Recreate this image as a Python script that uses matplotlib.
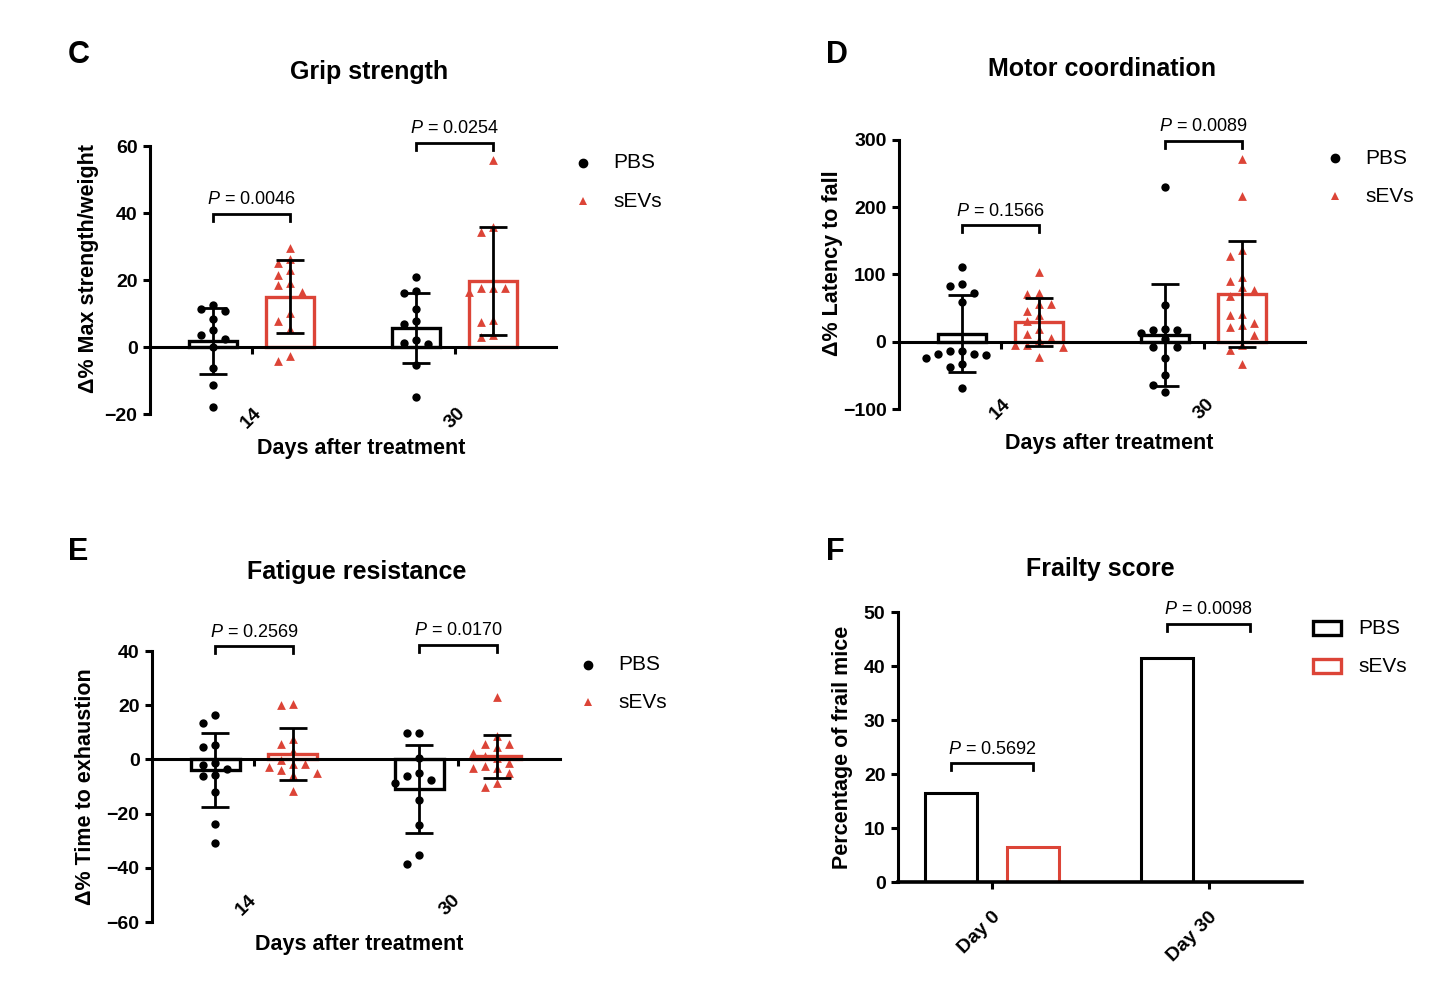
import numpy as np
import matplotlib
matplotlib.use('Agg')
import matplotlib.pyplot as plt
from matplotlib.patches import Rectangle
from matplotlib.transforms import blended_transform_factory

plt.rcParams['font.family'] = ['Liberation Sans', 'DejaVu Sans']
plt.rcParams['mathtext.fontset'] = 'custom'
plt.rcParams['mathtext.it'] = 'Liberation Sans:italic'
plt.rcParams['mathtext.rm'] = 'Liberation Sans'

RED = '#DC4437'

# ---- data ----
days = ['14', '30']

grip_pbs = [[12.5, 10.8, 11.3, 8.5, 5.0, 3.5, 2.3, 0.0, -6.2, -11.3, -17.8],
            [21.0, 16.8, 16.0, 11.2, 6.8, 7.7, 1.2, 2.0, 0.8, -5.3, -15.0]]
grip_sevs = [[29.7, 25.0, 26.2, 21.5, 23.0, 18.5, 19.0, 16.5, 10.2, 5.3, 7.8, -4.2, -2.8],
             [55.8, 35.8, 34.3, 17.5, 17.5, 16.3, 17.5, 7.5, 8.2, 3.0, 3.5]]
grip_p = ['0.0046', '0.0254']

motor_pbs = [[110.7, 86.5, 82.5, 72.6, 58.8, -13.8, -13.8, -20.3, -18.8, -18.8, -23.7, -37.6, -32.6, -69.2],
             [230.8, 55.3, 17.3, 17.3, 13.3, 19.3, 4.4, -7.4, -7.4, -23.7, -49.4, -74.6, -63.7]]
motor_sevs = [[103.8, 71.2, 72.6, 56.8, 56.8, 46.0, 40.5, 31.1, 11.9, 18.3, 5.9, 2.0, -5.4, -7.4, -5.4, -22.7],
              [272.3, 217.0, 136.0, 127.0, 91.0, 77.6, 95.9, 81.0, 67.7, 40.5, 42.0, 24.2, 28.2, 21.7,
               9.4, -5.4, -12.8, -32.6]]
motor_p = ['0.1566', '0.0089']

fatigue_pbs = [[16.2, 13.3, 5.3, 4.4, -1.2, -3.7, -2.1, -5.8, -6.1, -11.9, -23.9, -30.7],
               [9.9, 9.9, 0.7, -6.0, -5.2, -7.6, -8.8, -15.0, -24.2, -35.2, -38.7]]
fatigue_sevs = [[20.2, 20.6, 7.7, 5.5, 3.1, -1.7, -0.2, -1.7, -2.7, -3.9, -4.9, -5.8, -11.5],
                [23.1, 8.6, 4.4, 5.5, 5.5, 0.4, 2.2, 1.2, -3.3, -1.2, -3.3, -2.5, -5.2, -10.1, -8.6]]
fatigue_p = ['0.2569', '0.0170']

frail_days = ['Day 0', 'Day 30']
frail_pbs = [16.4, 41.4]
frail_sevs = [6.4, 0.0]
frail_p = ['0.5692', '0.0098']

# ---- layout ----
W, H = 1446, 996
fig = plt.figure(figsize=(W / 100, H / 100), dpi=100)


def rect(l, t, r, b):
    return [l / W, 1 - b / H, (r - l) / W, (b - t) / H]


def fx(x, y):
    return x / W, 1 - y / H


OFF = 0.19
BW = 0.24
LW = 2.2


def style(ax):
    for s in ['top', 'right']:
        ax.spines[s].set_visible(False)
    for s in ['left', 'bottom']:
        ax.spines[s].set_linewidth(LW)
        ax.spines[s].set_zorder(5)
    ax.tick_params(axis='both', direction='out', length=5, width=LW, labelsize=14, pad=4)
    for lab in ax.get_yticklabels():
        lab.set_fontweight('bold')


def swarm(ax, xc, vals, step=12, dist=10):
    # spread overlapping points sideways, like Prism's scatter columns
    vals = np.asarray(vals, dtype=float)
    pix = ax.transData.transform(np.column_stack([np.full(len(vals), xc), vals]))
    xs = pix[:, 0].copy()
    placed = []
    for i in np.argsort(-vals):
        y = pix[i, 1]
        for k in [0, -1, 1, -2, 2, -3, 3, -4, 4, -5, 5]:
            x = pix[i, 0] + k * step
            if all((x - px) ** 2 + (y - py) ** 2 >= dist ** 2 for px, py in placed):
                break
        placed.append((x, y))
        xs[i] = x
    return ax.transData.inverted().transform(np.column_stack([xs, pix[:, 1]]))[:, 0]


def bracket(ax, x0, x1, y, ptxt, leg_px=7):
    ppu = ax.transData.transform((0, 1))[1] - ax.transData.transform((0, 0))[1]
    leg = leg_px / ppu
    ax.plot([x0, x0, x1, x1], [y - leg, y, y, y - leg], color='black', lw=2, clip_on=False,
            solid_joinstyle='miter')
    ax.annotate(r'$\it{P}$ = ' + ptxt, ((x0 + x1) / 2, y), xytext=(0, 4), textcoords='offset points',
                ha='center', va='bottom', fontsize=13, annotation_clip=False)


def dot_panel(ax, pbs, sevs, pvals, ylim, yticks, br_y, lab_y, lab_dx, ylabel, ylab_xy):
    ax.set_xlim(-0.5, 1.5)
    ax.set_ylim(*ylim)
    ax.set_yticks(yticks)
    ax.spines['bottom'].set_position(('data', 0))
    x = np.arange(len(days))
    ax.set_xticks(x)
    ax.set_xticklabels([])
    style(ax)
    for vals, off, color, marker, size in [(pbs, -OFF, 'black', 'o', 36), (sevs, OFF, RED, '^', 40)]:
        means = [np.mean(v) for v in vals]
        sds = [np.std(v, ddof=1) for v in vals]
        ax.bar(x + off, means, width=BW, facecolor='white', edgecolor=color, linewidth=2.4, zorder=2)
        for xi, v in zip(x + off, vals):
            ax.scatter(swarm(ax, xi, v), v, marker=marker, s=size, color=color, linewidths=0,
                       zorder=3, clip_on=False)
        ax.errorbar(x + off, means, yerr=sds, fmt='none', ecolor='black', elinewidth=2,
                    capsize=10, capthick=2, zorder=4)
    for xi, y, p in zip(x, br_y, pvals):
        bracket(ax, xi - OFF, xi + OFF, y, p)
    tr = blended_transform_factory(ax.transData, ax.transAxes)
    for xi, d in zip(x, days):
        ax.text(xi + lab_dx, lab_y, d, transform=tr, rotation=45, ha='center', va='center',
                fontsize=14, fontweight='bold')
    ax.set_ylabel(ylabel, fontsize=15.5, fontweight='bold')
    ax.yaxis.set_label_coords(*ylab_xy)


def dot_legend(x, y0, y1):
    fig.lines.append(plt.Line2D([fx(x, y0)[0]], [fx(x, y0)[1]], marker='o', color='black',
                                markersize=6, transform=fig.transFigure, linestyle='none'))
    fig.lines.append(plt.Line2D([fx(x, y1)[0]], [fx(x, y1)[1]], marker='^', color=RED,
                                markersize=6, markeredgewidth=0, transform=fig.transFigure,
                                linestyle='none'))
    fig.text(*fx(x + 30, y0), 'PBS', fontsize=15, va='center')
    fig.text(*fx(x + 30, y1), 'sEVs', fontsize=15, va='center')


# ---- C: grip strength ----
axC = fig.add_axes(rect(150, 146, 556, 414))
dot_panel(axC, grip_pbs, grip_sevs, grip_p, (-20, 60), [-20, 0, 20, 40, 60], [39.7, 61.0],
          -0.015, 0.0, '\u0394% Max strength/weight', (-0.126, 0.543))
fig.text(*fx(361, 448), 'Days after treatment', fontsize=15.5, fontweight='bold', ha='center', va='center')
fig.text(*fx(369, 72), 'Grip strength', fontsize=18, fontweight='bold', ha='center', va='center')
fig.text(*fx(68, 55), 'C', fontsize=22, fontweight='bold', va='center')
dot_legend(583, 163, 201)

# ---- D: motor coordination ----
axD = fig.add_axes(rect(899, 140, 1305, 409))
dot_panel(axD, motor_pbs, motor_sevs, motor_p, (-100, 300), [-100, 0, 100, 200, 300], [173.0, 299.0],
          0.0, 0.0, '\u0394% Latency to fall', (-0.138, 0.541))
fig.text(*fx(1109, 443), 'Days after treatment', fontsize=15.5, fontweight='bold', ha='center', va='center')
fig.text(*fx(1102, 69), 'Motor coordination', fontsize=18, fontweight='bold', ha='center', va='center')
fig.text(*fx(826, 55), 'D', fontsize=22, fontweight='bold', va='center')
dot_legend(1335, 158, 196)

# ---- E: fatigue resistance ----
axE = fig.add_axes(rect(152, 651, 560, 922))
dot_panel(axE, fatigue_pbs, fatigue_sevs, fatigue_p, (-60, 40), [-60, -40, -20, 0, 20, 40], [41.7, 42.3],
          0.063, -0.04, '\u0394% Time to exhaustion', (-0.137, 0.5))
fig.text(*fx(359, 944), 'Days after treatment', fontsize=15.5, fontweight='bold', ha='center', va='center')
fig.text(*fx(357, 572), 'Fatigue resistance', fontsize=18, fontweight='bold', ha='center', va='center')
fig.text(*fx(68, 552), 'E', fontsize=22, fontweight='bold', va='center')
dot_legend(588, 665, 702)

# ---- F: frailty score ----
axF = fig.add_axes(rect(898, 612, 1302, 882))
axF.set_xlim(-0.434, 1.431)
axF.set_ylim(0, 50)
axF.set_yticks([0, 10, 20, 30, 40, 50])
xf = np.arange(len(frail_days))
axF.bar(xf - OFF, frail_pbs, width=BW, facecolor='white', edgecolor='black', linewidth=LW, zorder=2)
axF.bar(xf + OFF, frail_sevs, width=BW, facecolor='white', edgecolor=RED, linewidth=LW, zorder=2)
axF.set_xticks(xf)
axF.set_xticklabels(frail_days)
style(axF)
axF.spines['bottom'].set_linewidth(LW + 0.4)
for lab in axF.get_xticklabels():
    lab.set_fontweight('bold')
    lab.set_rotation(45)
    lab.set_ha('right')
    lab.set_rotation_mode('anchor')
axF.tick_params(axis='x', pad=14)
for xi, y, p in zip(xf, [22.0, 47.8], frail_p):
    bracket(axF, xi - OFF, xi + OFF, y, p)
axF.set_ylabel('Percentage of frail mice', fontsize=15.5, fontweight='bold')
axF.yaxis.set_label_coords(-0.111, 0.498)
fig.text(*fx(1100, 569), 'Frailty score', fontsize=18, fontweight='bold', ha='center', va='center')
fig.text(*fx(826, 552), 'F', fontsize=22, fontweight='bold', va='center')
for (y, c, name) in [(628, 'black', 'PBS'), (666, RED, 'sEVs')]:
    x0, y0 = fx(1313, y + 7)
    fig.patches.append(Rectangle((x0, y0), 28 / W, 14 / H, facecolor='white', edgecolor=c,
                                 linewidth=2.4, transform=fig.transFigure))
    fig.text(*fx(1358, y), name, fontsize=15, va='center')

fig.savefig('out.png', dpi=100, facecolor='white')
